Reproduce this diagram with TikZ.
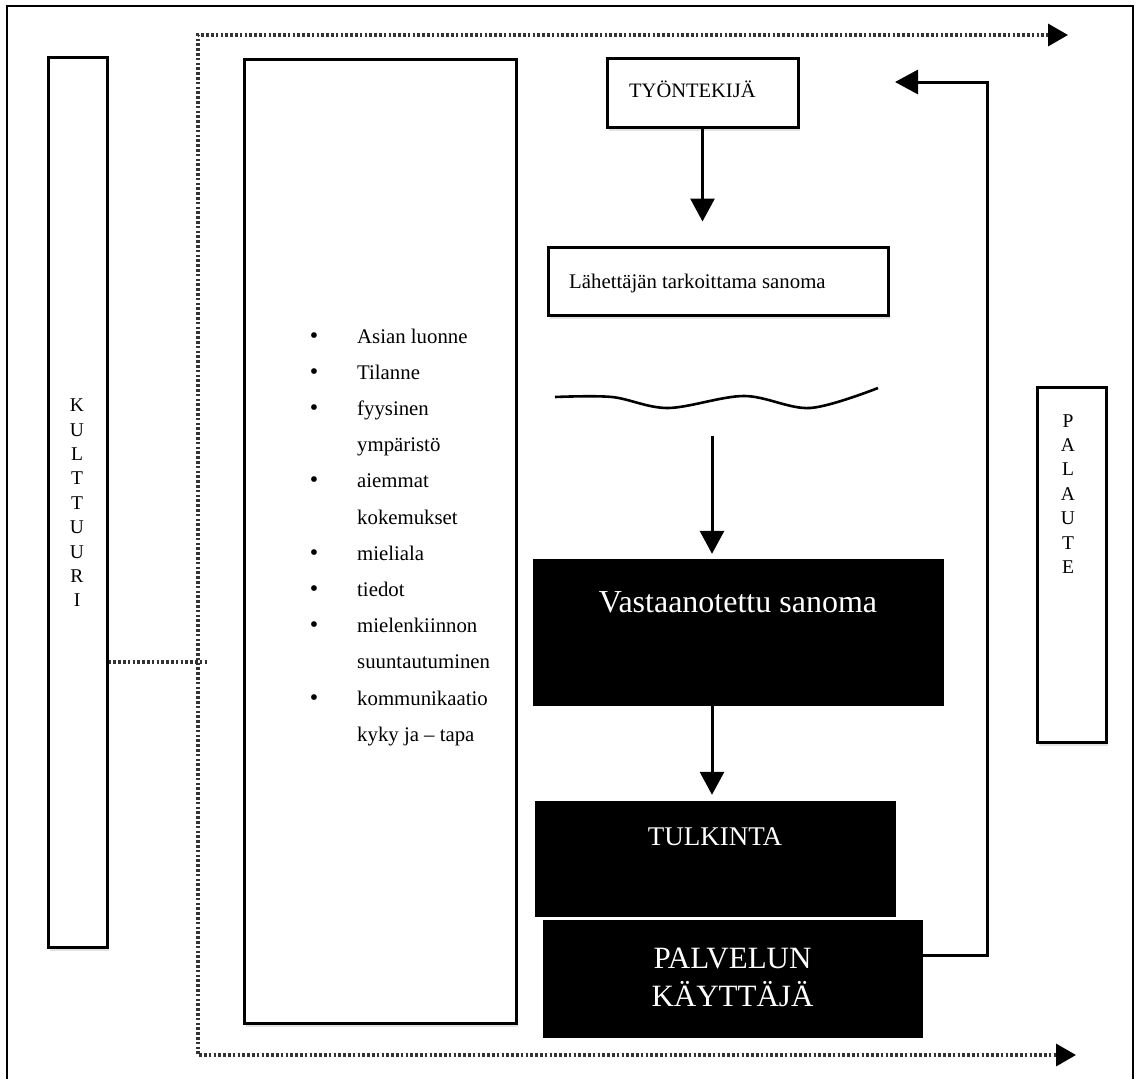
\documentclass[tikz,border=0pt]{standalone}
\usepackage{fontspec}
\setmainfont{Liberation Serif}
\usetikzlibrary{arrows.meta,shadows}
\begin{document}
\begin{tikzpicture}[x=1pt,y=-1pt,
  box/.style={draw,line width=3pt,fill=white,inner sep=0pt,
    drop shadow={opacity=0.22,shadow xshift=2pt,shadow yshift=-4pt}},
  blackbox/.style={draw=black,fill=black,inner sep=0pt},
  arr/.style={line width=3pt,-{Triangle[length=23pt,width=24pt]}},
  dotline/.style={line width=3.5pt,black!80,dash pattern=on 2.6pt off 2.2pt},
  dtip/.tip={Triangle[length=20pt,width=22pt,color=black]},
  lbl/.style={inner sep=0pt},
]
\useasboundingbox (0,0) rectangle (1136,1079);
% outer frame
\draw[line width=1.8pt] (7,1079) -- (7,6) -- (1133,6) -- (1133,1079);

% boxes
\node[box,minimum width=59pt,minimum height=890pt] (kult) at (77.5,502) {};
\node[box,minimum width=272pt,minimum height=964pt] (fac) at (380,541) {};
\node[box,minimum width=191pt,minimum height=69pt] (tyo) at (702.5,92.5) {};
\node[box,minimum width=340pt,minimum height=68pt] (lah) at (718,281) {};
\node[blackbox,minimum width=410pt,minimum height=146pt] (vast) at (738,632) {};
\node[blackbox,minimum width=360pt,minimum height=115pt] (tulk) at (715,858.5) {};
\node[blackbox,minimum width=379pt,minimum height=117pt] (palv) at (732.5,978.5) {};
\node[box,minimum width=69pt,minimum height=355pt] (pal) at (1071.5,564.5) {};

% texts
\node[lbl,align=center,font=\fontsize{19.5}{24.4}\selectfont] (kultt) at (77,503)
  {K\\U\\L\\T\\T\\U\\U\\R\\I};
\node[lbl,align=center,font=\fontsize{19.5}{24.4}\selectfont] (palt) at (1068,494)
  {P\\A\\L\\A\\U\\T\\E};
\node[lbl,anchor=base west,font=\fontsize{20.5}{24}\selectfont] (tyot) at (629,97) {TYÖNTEKIJÄ};
\node[lbl,anchor=base west,font=\fontsize{20.8}{24}\selectfont] (laht) at (569,288)
  {Lähettäjän tarkoittama sanoma};
\node[lbl,anchor=base,text=white,font=\fontsize{32}{36}\selectfont] (vastt) at (738,612)
  {Vastaanotettu sanoma};
\node[lbl,anchor=base,text=white,font=\fontsize{27}{30}\selectfont] (tulkt) at (715,845) {TULKINTA};
\node[lbl,anchor=base,text=white,font=\fontsize{31}{36}\selectfont] (palv1) at (732.5,968) {PALVELUN};
\node[lbl,anchor=base,text=white,font=\fontsize{31}{36}\selectfont] (palv2) at (732.5,1006) {KÄYTTÄJÄ};

% bullet list
\foreach \t [count=\k from 0] in {Asian luonne,Tilanne,fyysinen,ympäristö,aiemmat,kokemukset,
    mieliala,tiedot,mielenkiinnon,suuntautuminen,kommunikaatio,kyky ja – tapa}
  \node[lbl,anchor=base west,font=\fontsize{20.8}{24}\selectfont] (li\k) at (357,{343+36.2*\k}) {\t};
\foreach \k in {0,1,2,4,6,7,8,10}
  \node[lbl,anchor=base,font=\fontsize{24}{24}\selectfont] (bu\k) at (314,{343+36.2*\k}) {•};

% wavy line
\draw[line width=2.6pt] plot[smooth,tension=0.55] coordinates
  {(555,397) (612,397) (668,408) (744,396) (810,408) (878,388)};

% arrows
\coordinate (w) at (712,436);
\draw[arr,shorten >=24pt] (tyo.south) -- (tyo.south |- lah.north);
\draw[arr,shorten >=5pt] (w) -- (w |- vast.north);
\draw[arr,shorten >=6pt] (w |- vast.south) -- (w |- tulk.north);

% feedback
\coordinate (fb1) at (987,955);
\coordinate (fb2) at (987,82);
\coordinate (fbt) at (895,82);
\draw[line width=3pt,-{Triangle[length=23pt,width=24pt]}] (palv.east |- fb1) -- (fb1) -- (fb2) -- (fbt);

% dotted frame
\coordinate (dtl) at (198,35);
\coordinate (dtr) at (1068,35);
\coordinate (dbl) at (198,1055);
\coordinate (dbr) at (1076,1055);
\draw[dotline,dtip-dtip] (dtr) -- (dtl) -- (dbl) -- (dbr);
\coordinate (kc) at (207,662);
\draw[dotline] (kult.east |- kc) -- (kc);
\end{tikzpicture}
\end{document}
